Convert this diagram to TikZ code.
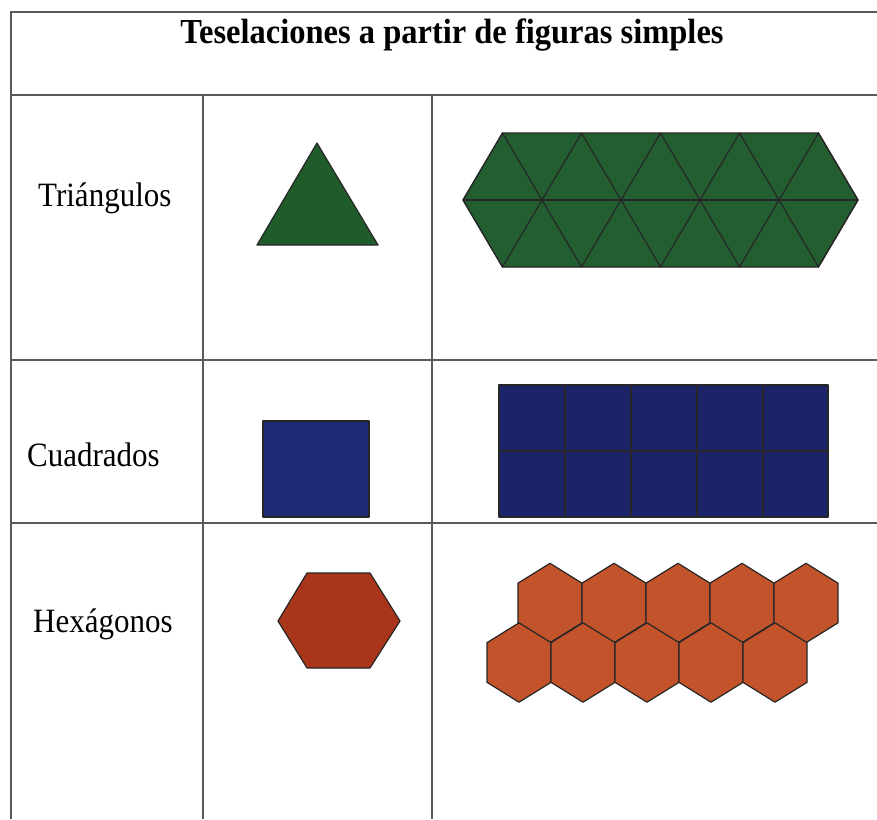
\documentclass[tikz,border=0pt]{standalone}
\usepackage{fontspec}
\setmainfont{Liberation Serif}
\definecolor{gridc}{HTML}{5A5A5A}
\definecolor{grn}{HTML}{1F5C2A}
\definecolor{grnt}{HTML}{235E30}
\definecolor{navy}{HTML}{1E2C78}
\definecolor{navyt}{HTML}{1B2468}
\definecolor{hexs}{HTML}{A9361A}
\definecolor{hext}{HTML}{C3532B}
\tikzset{
  gridline/.style={draw=gridc, line width=1.3pt},
  lbl/.style={anchor=base west, inner sep=0pt, font=\fontsize{31}{31}\selectfont},
  ttl/.style={anchor=base, inner sep=0pt, font=\bfseries\fontsize{32.5}{32.5}\selectfont},
  tile/.style={draw=black!85, line width=1.2pt, line join=round},
}
\begin{document}
\begin{tikzpicture}[x=1pt,y=-1pt]
\useasboundingbox (0,0) rectangle (877,819);
\fill[white] (0,0) rectangle (877,819);
% table grid
\draw[gridline] (11,819) -- (11,12) -- (877,12);
\draw[gridline] (11,95) -- (877,95);
\draw[gridline] (11,360) -- (877,360);
\draw[gridline] (11,523) -- (877,523);
\draw[gridline] (203,95) -- (203,819);
\draw[gridline] (432,95) -- (432,819);
% texts
\node[ttl] (title) at (452,43) {\scalebox{1}[1.08]{Teselaciones a partir de figuras simples}};
\node[lbl] (tri) at (38,206) {\scalebox{1}[1.1]{Triángulos}};
\node[lbl] (cua) at (27,466) {\scalebox{1}[1.1]{Cuadrados}};
\node[lbl] (hex) at (33,632) {\scalebox{1}[1.1]{Hexágonos}};
% single triangle
\filldraw[tile, fill=grn] (317,143) -- (378,245) -- (257,245) -- cycle;
% triangle tessellation
\filldraw[tile, fill=grnt] (463,200) -- (502.5,133) -- (818.5,133) -- (858,200) -- (818.5,267) -- (502.5,267) -- cycle;
\draw[tile] (463,200) -- (858,200);
\foreach \i in {0,...,4} {
  \pgfmathsetmacro{\m}{463+79*\i}
  \pgfmathsetmacro{\t}{502.5+79*\i}
  \pgfmathsetmacro{\n}{542+79*\i}
  \draw[tile] (\m,200) -- (\t,133) -- (\n,200) -- (\t,267) -- cycle;
}
% single square
\filldraw[tile, fill=navy] (263,421) rectangle (369,517);
% square tessellation
\filldraw[tile, fill=navyt] (499,385) rectangle (828,517);
\draw[tile] (499,451) -- (828,451);
\foreach \x in {565,631,697,763} { \draw[tile] (\x,385) -- (\x,517); }
% single hexagon
\filldraw[tile, fill=hexs] (278,621) -- (307,573) -- (370,573) -- (400,621) -- (370,668) -- (307,668) -- cycle;
% hexagon tessellation
\def\ry{39.7}
\foreach \cx/\cy in {550/603, 614/603, 678/603, 742/603, 806/603,
                     519/662.5, 583/662.5, 647/662.5, 711/662.5, 775/662.5} {
  \filldraw[tile, fill=hext] (\cx,\cy-\ry) -- (\cx+32,\cy-\ry/2) -- (\cx+32,\cy+\ry/2) -- (\cx,\cy+\ry) -- (\cx-32,\cy+\ry/2) -- (\cx-32,\cy-\ry/2) -- cycle;
}
\end{tikzpicture}
\end{document}
